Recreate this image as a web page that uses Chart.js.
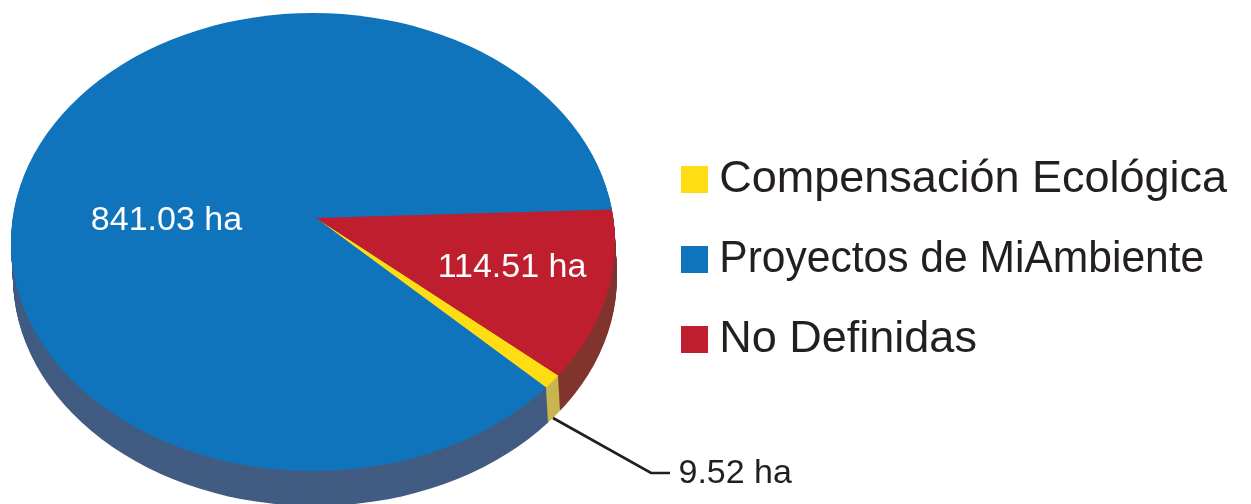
<!DOCTYPE html>
<html lang="es">
<head>
<meta charset="utf-8">
<style>html,body{margin:0;padding:0;background:#fff;overflow:hidden}canvas{display:block}</style>
<script src="https://cdn.jsdelivr.net/npm/chart.js@4"></script>
</head>
<body>
<canvas id="c" width="1251" height="504"></canvas>
<script>
const categories = ['Compensación Ecológica', 'Proyectos de MiAmbiente', 'No Definidas'];
const hectares = [9.52, 841.03, 114.51];
const topColors = ['#FFDD15', '#1074BC', '#BE1E2D'];
const sideColors = ['#C8B64F', '#425C82', '#82352F'];
const INK = '#231F20';
const FONT = '"Liberation Sans", Arial, sans-serif';
const haLabel = v => v.toFixed(2) + ' ha';

function swatch(color) {
  const s = document.createElement('canvas');
  s.width = 27; s.height = 27;
  const x = s.getContext('2d');
  x.fillStyle = color; x.fillRect(0, 0, 27, 27);
  return s;
}

// Perspective geometry of the drawn disc
const DISC = {cx: 313, cy: 242, rx: 302, ry: 229};
const APEX = {x: 316, y: 218};
const SQUASH = DISC.ry / DISC.rx;
const REACH = 345;
const DEPTH = 35, DRIFT = 2;

function applyDisc(ctx, el, dx, dy) {
  const k = REACH / el.outerRadius;
  ctx.translate(APEX.x + dx, APEX.y + dy);
  ctx.scale(k, k * SQUASH);
  ctx.translate(-el.x, -el.y);
}
function clipDisc(ctx, dx, dy) {
  ctx.beginPath();
  ctx.ellipse(DISC.cx + dx, DISC.cy + dy, DISC.rx, DISC.ry, 0, 0, Math.PI * 2);
  ctx.clip();
}

const pie3d = {
  id: 'pie3d',
  beforeDatasetsDraw(chart) {
    const ctx = chart.ctx;
    const arcs = chart.getDatasetMeta(0).data;
    for (let d = DEPTH; d >= 1; d--) {
      const dx = DRIFT * d / DEPTH;
      ctx.save();
      clipDisc(ctx, dx, d);
      arcs.forEach((el, i) => {
        const p = el.getProps(['x', 'y', 'startAngle', 'endAngle', 'outerRadius'], true);
        ctx.save();
        applyDisc(ctx, p, dx, d);
        ctx.beginPath();
        ctx.moveTo(p.x, p.y);
        ctx.arc(p.x, p.y, p.outerRadius, p.startAngle, p.endAngle);
        ctx.closePath();
        ctx.fillStyle = sideColors[i];
        ctx.fill();
        ctx.restore();
      });
      ctx.restore();
    }
    ctx.save();
    clipDisc(ctx, 0, 0);
    applyDisc(ctx, arcs[0].getProps(['x', 'y', 'outerRadius'], true), 0, 0);
  },
  afterDatasetsDraw(chart) {
    const ctx = chart.ctx;
    ctx.restore();
    ctx.save();
    ctx.font = '34px ' + FONT;
    ctx.textBaseline = 'alphabetic';
    ctx.fillStyle = '#fff';
    ctx.textAlign = 'center';
    ctx.fillText(haLabel(hectares[1]), 166.5, 230);
    ctx.fillText(haLabel(hectares[2]), 512, 277);
    ctx.strokeStyle = INK;
    ctx.lineWidth = 2.7;
    ctx.beginPath();
    ctx.moveTo(553, 418);
    ctx.lineTo(651, 473);
    ctx.lineTo(670, 473);
    ctx.stroke();
    ctx.fillStyle = INK;
    ctx.textAlign = 'left';
    ctx.fillText(haLabel(hectares[0]), 678.5, 483);
    ctx.restore();
  }
};

const canvas = document.getElementById('c');
// The middle legend entry is set slightly condensed in the reference.
const ctx2d = canvas.getContext('2d');
const baseFillText = ctx2d.fillText;
ctx2d.fillText = function (t, x, y, m) {
  return baseFillText.call(this, t, x, y, t === categories[1] ? 485 : m);
};

new Chart(canvas, {
  type: 'pie',
  data: {
    labels: categories,
    datasets: [{
      data: hectares,
      backgroundColor: topColors,
      borderWidth: 0,
      clip: false
    }]
  },
  plugins: [pie3d],
  options: {
    responsive: false,
    animation: false,
    rotation: 130.6,
    layout: {padding: {top: 15, right: 9}},
    plugins: {
      tooltip: {enabled: false},
      legend: {
        position: 'right',
        labels: {
          usePointStyle: true,
          pointStyleWidth: 4,
          boxHeight: 27,
          padding: 35,
          color: INK,
          font: {family: FONT, size: 45},
          generateLabels: () => categories.map((text, i) => ({
            text, index: i, hidden: false, lineWidth: 0,
            fillStyle: topColors[i], strokeStyle: topColors[i],
            fontColor: INK, pointStyle: swatch(topColors[i])
          }))
        }
      }
    }
  }
});
</script>
</body>
</html>
